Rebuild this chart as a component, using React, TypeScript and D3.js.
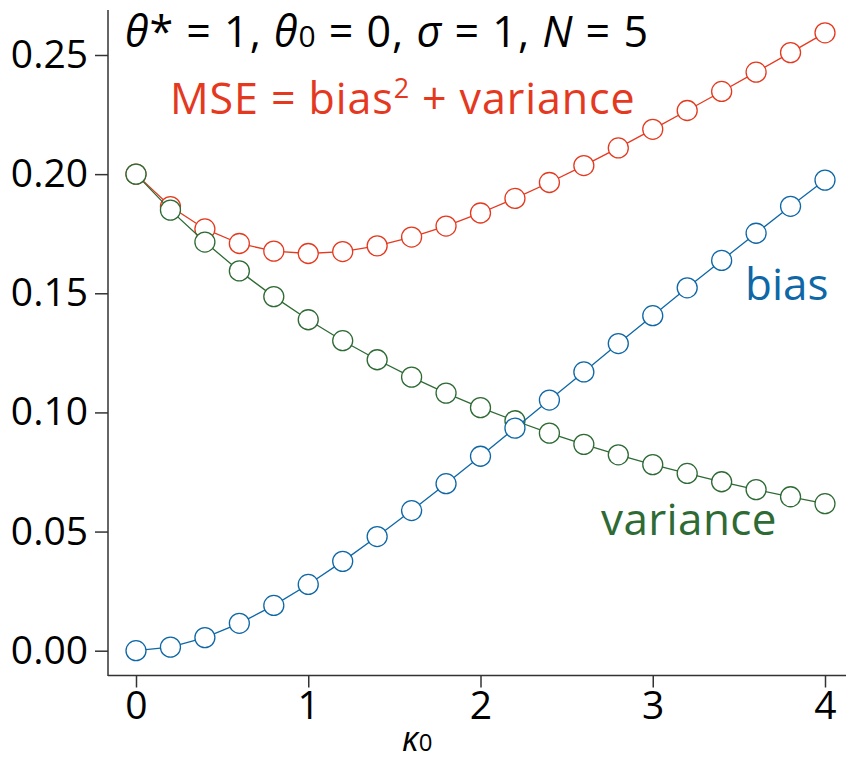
import * as d3 from 'd3';
import React, { useRef, useEffect } from 'react';

const kappa = [0, 0.2, 0.4, 0.6, 0.8, 1.0, 1.2, 1.4, 1.6, 1.8, 2.0, 2.2, 2.4, 2.6, 2.8, 3.0, 3.2, 3.4, 3.6, 3.8, 4.0];
const bias = [0, 0.0015, 0.0055, 0.0115, 0.019, 0.0278, 0.0375, 0.0479, 0.0588, 0.0701, 0.0816, 0.0934, 0.1052, 0.117, 0.1289, 0.1406, 0.1523, 0.1638, 0.1752, 0.1865, 0.1975];
const variance = [0.2, 0.1849, 0.1715, 0.1594, 0.1486, 0.1389, 0.1301, 0.1221, 0.1148, 0.1081, 0.102, 0.0965, 0.0913, 0.0866, 0.0822, 0.0781, 0.0744, 0.0709, 0.0676, 0.0646, 0.0617];
const mse = [0.2, 0.1864, 0.177, 0.1709, 0.1677, 0.1667, 0.1675, 0.1699, 0.1736, 0.1782, 0.1837, 0.1898, 0.1965, 0.2036, 0.211, 0.2188, 0.2267, 0.2347, 0.2428, 0.251, 0.2593];
const xTicks = [0, 1, 2, 3, 4];
const yTicks = [0, 0.05, 0.1, 0.15, 0.2, 0.25];

const colors = { mse: '#e5391f', bias: '#0e67a6', variance: '#2e6a34' };
const font = '"Open Sans", "Noto Sans", sans-serif';

const width = 846;
const height = 760;

const App = () => {
  const svgRef = useRef<SVGSVGElement>(null);

  useEffect(() => {
    const x = d3.scaleLinear().domain([0, 4]).range([136, 825]);
    const y = d3.scaleLinear().domain([0, 0.25]).range([650.7, 55]);

    const svg = d3.select(svgRef.current);
    svg.selectAll('*').remove();

    // axes
    const gx = svg.append('g')
      .attr('transform', 'translate(0,675.5)')
      .call(d3.axisBottom(x).tickValues(xTicks).tickFormat(d3.format('d')).tickSize(12).tickPadding(4).tickSizeOuter(0));
    gx.select('.domain').attr('d', 'M108,0H846');
    const gy = svg.append('g')
      .attr('transform', 'translate(108,0)')
      .call(d3.axisLeft(y).tickValues(yTicks).tickFormat(d3.format('.2f')).tickSize(13).tickPadding(7).tickSizeOuter(0));
    gy.select('.domain').attr('d', 'M0,10V676');
    svg.selectAll('.tick line').attr('stroke', '#333').attr('stroke-width', 1.5);
    svg.selectAll('.domain').attr('stroke', '#333').attr('stroke-width', 1.5);
    svg.selectAll('.tick text').attr('font-family', font).attr('font-size', 39).attr('fill', '#000');

    const series = [
      { vals: mse, color: colors.mse },
      { vals: variance, color: colors.variance },
      { vals: bias, color: colors.bias },
    ];
    const line = d3.line<number>().x((_, i) => x(kappa[i])).y(d => y(d));
    series.forEach(s => {
      svg.append('path')
        .attr('d', line(s.vals))
        .attr('fill', 'none')
        .attr('stroke', s.color)
        .attr('stroke-width', 1.3);
      svg.append('g').selectAll('circle')
        .data(s.vals)
        .join('circle')
        .attr('cx', (_, i) => x(kappa[i]))
        .attr('cy', d => y(d))
        .attr('r', 10)
        .attr('fill', '#fff')
        .attr('stroke', s.color)
        .attr('stroke-width', 1.3);
    });

    // labels
    const title = svg.append('text')
      .attr('x', 125).attr('y', 47)
      .attr('font-family', font).attr('font-size', 43).attr('fill', '#000')
      .attr('letter-spacing', 1);
    const parts: [string, boolean, boolean][] = [
      ['θ', true, false], ['* = 1, ', false, false], ['θ', true, false], ['0', false, true],
      [' = 0, ', false, false], ['σ', true, false], [' = 1, ', false, false], ['N', true, false], [' = 5', false, false],
    ];
    parts.forEach(([t, it, sub]) => {
      title.append('tspan')
        .attr('font-style', it ? 'italic' : 'normal')
        .attr('font-size', sub ? 30 : 43)
        .text(t);
    });

    const m = svg.append('text')
      .attr('x', 170).attr('y', 114)
      .attr('font-family', font).attr('font-size', 43).attr('fill', colors.mse)
      .attr('letter-spacing', 0.9);
    m.append('tspan').text('MSE = bias');
    m.append('tspan').attr('font-size', 27).attr('dy', -16).text('2');
    m.append('tspan').attr('dy', 16).text(' + variance');

    svg.append('text')
      .attr('x', 745).attr('y', 300)
      .attr('font-family', font).attr('font-size', 44).attr('fill', colors.bias)
      .text('bias');
    svg.append('text')
      .attr('x', 601).attr('y', 535)
      .attr('font-family', font).attr('font-size', 44).attr('fill', colors.variance)
      .attr('letter-spacing', 0.4)
      .text('variance');

    const xl = svg.append('text')
      .attr('x', 402).attr('y', 751)
      .attr('font-family', font).attr('font-size', 34).attr('fill', '#000');
    xl.append('tspan').attr('font-style', 'italic').text('κ');
    xl.append('tspan').attr('font-size', 24).text('0');
  }, []);

  return (
    <svg ref={svgRef} width={width} height={height}
      style={{ position: 'absolute', left: 0, top: 0, background: '#fff' }} />
  );
};

export default App;
